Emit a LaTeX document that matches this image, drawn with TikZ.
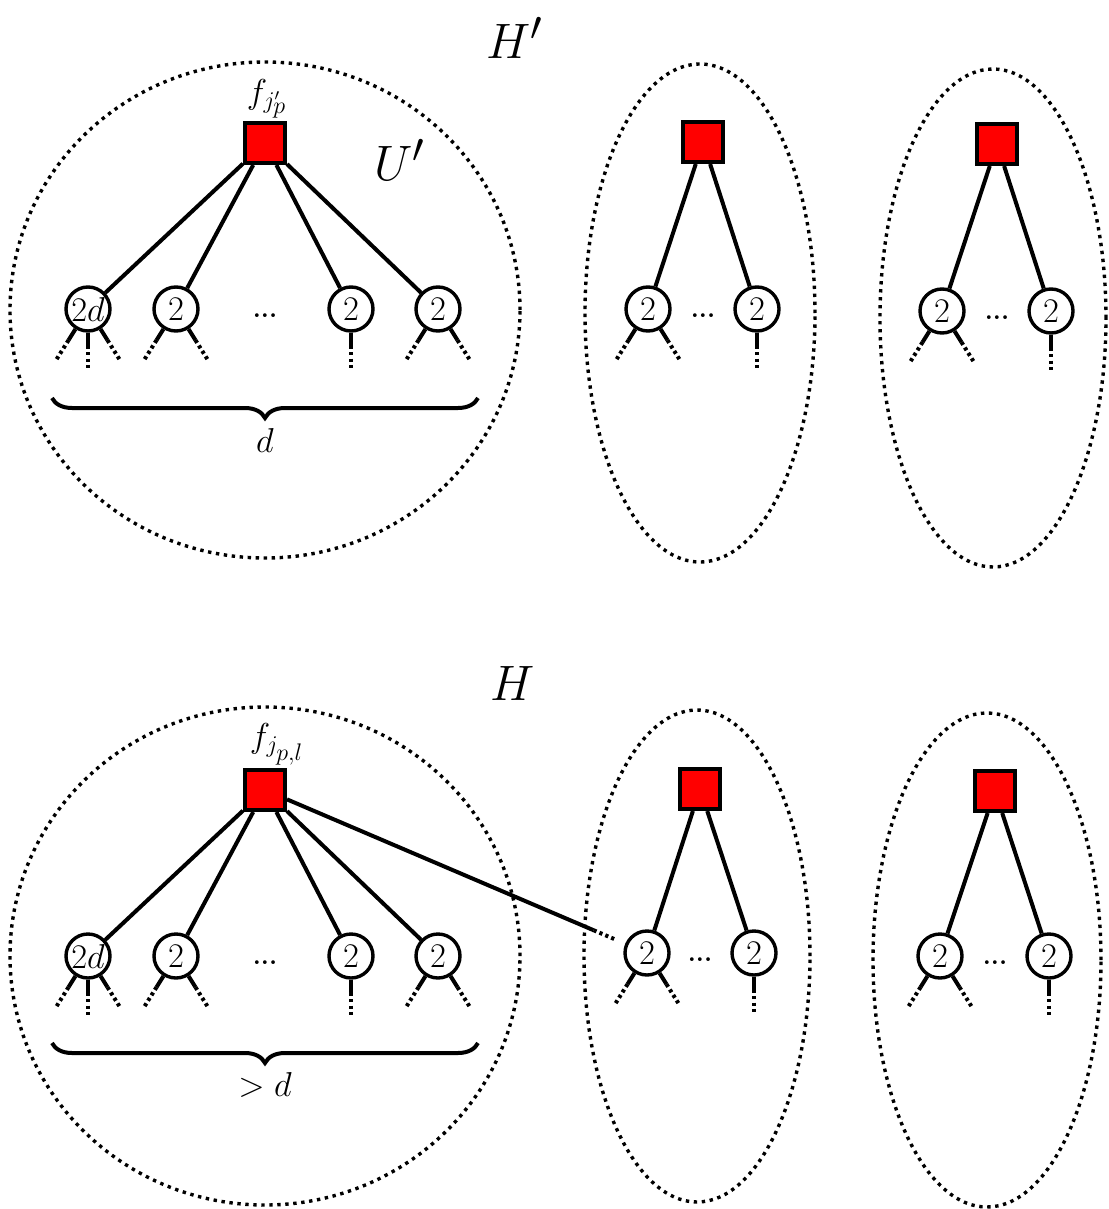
\documentclass[tikz,border=0pt]{standalone}
\usetikzlibrary{calc,decorations.pathreplacing}

\tikzset{
  factor/.style={draw, line width=2pt, fill=red, minimum size=20pt, inner sep=0pt},
  var/.style={draw, circle, line width=1.7pt, fill=white, minimum size=22pt, inner sep=0pt,
    font=\fontsize{17}{19}\selectfont},
  edge/.style={line width=2pt},
  loose/.style={line width=2pt, dash pattern=on 1.6pt off 1.6pt},
  group/.style={line width=1.7pt, dash pattern=on 1.7pt off 2.3pt},
  curly/.style={line width=2pt, decorate, decoration={brace, mirror, amplitude=10pt}},
  elide/.style={font=\fontsize{13}{15}\selectfont\bfseries, inner sep=0pt},
  tag/.style={font=\fontsize{17}{19}\selectfont, inner sep=1pt},
  title/.style={font=\fontsize{31}{36}\selectfont},
}

% stub below a variable node: solid piece, then dotted
\newcommand{\stub}[2]{%
  \draw[edge] (#1.#2) -- ++(#2:13) coordinate (#1s#2);
  \draw[loose] (#1s#2) -- ++(#2:25) coordinate (#1e#2);}

\begin{document}
\begin{tikzpicture}[x=0.5pt, y=0.5pt]
  \useasboundingbox (0,0) rectangle (1108,-1209);

  % ---------- H' ----------
  \node[title] (hp) at (515,-38) {$H'$};
  \draw[group] (265,-310) ellipse [x radius=255, y radius=248];
  \draw[group] (700,-313) ellipse [x radius=115, y radius=249];
  \draw[group] (993,-318) ellipse [x radius=113, y radius=249];

  \node[factor] (r1) at (265,-143) {};
  \node[tag, anchor=south] (f1) at ([xshift=1pt]r1.north) {$f_{j'_{\scriptstyle p}}$};
  \node[title, font=\fontsize{30}{36}\selectfont] (u) at (400,-160) {$U'$};
  \node[var] (a1) at (88,-309) {$2d$};
  \node[var] (a2) at (176,-309) {$2$};
  \node[var] (a3) at (351,-309) {$2$};
  \node[var] (a4) at (438,-309) {$2$};
  \node[elide] (e1) at (265,-316) {...};
  \draw[edge] (r1) -- (a1);
  \draw[edge] (r1) -- (a2);
  \draw[edge] (r1) -- (a3);
  \draw[edge] (r1) -- (a4);
  \stub{a1}{-122} \stub{a1}{-90} \stub{a1}{-58}
  \stub{a2}{-122} \stub{a2}{-58}
  \stub{a3}{-90}
  \stub{a4}{-122} \stub{a4}{-58}
  \draw[curly] (52,-398) -- (478,-398);
  \node[tag] (d1) at (265,-440) {$d$};

  \node[factor] (r2) at (703,-142) {};
  \node[var] (b1) at (648,-309) {$2$};
  \node[var] (b2) at (757,-309) {$2$};
  \node[elide] (e2) at (703,-316) {...};
  \draw[edge] (r2) -- (b1);
  \draw[edge] (r2) -- (b2);
  \stub{b1}{-122} \stub{b1}{-58}
  \stub{b2}{-90}

  \node[factor] (r3) at (997,-144) {};
  \node[var] (c1) at (942,-311) {$2$};
  \node[var] (c2) at (1051,-311) {$2$};
  \node[elide] (e3) at (997,-318) {...};
  \draw[edge] (r3) -- (c1);
  \draw[edge] (r3) -- (c2);
  \stub{c1}{-122} \stub{c1}{-58}
  \stub{c2}{-90}

  % ---------- H ----------
  \node[title] (h) at (513,-683) {$H$};
  \draw[group] (265,-956) ellipse [x radius=255, y radius=249];
  \draw[group] (697,-956) ellipse [x radius=113, y radius=246];
  \draw[group] (987,-960) ellipse [x radius=114, y radius=247];

  \node[factor] (R1) at (265,-790) {};
  \node[tag, anchor=south] (f2) at ([xshift=6pt]R1.north) {$f_{j_{\scriptstyle p,l}}$};
  \node[var] (A1) at (88,-956) {$2d$};
  \node[var] (A2) at (176,-956) {$2$};
  \node[var] (A3) at (351,-956) {$2$};
  \node[var] (A4) at (438,-956) {$2$};
  \node[elide] (E1) at (265,-963) {...};
  \draw[edge] (R1) -- (A1);
  \draw[edge] (R1) -- (A2);
  \draw[edge] (R1) -- (A3);
  \draw[edge] (R1) -- (A4);
  \stub{A1}{-122} \stub{A1}{-90} \stub{A1}{-58}
  \stub{A2}{-122} \stub{A2}{-58}
  \stub{A3}{-90}
  \stub{A4}{-122} \stub{A4}{-58}
  \draw[curly] (52,-1043) -- (478,-1043);
  \node[tag] (d2) at (265,-1085) {$>d$};

  \node[factor] (R2) at (700,-789) {};
  \node[var] (B1) at (647,-953) {$2$};
  \node[var] (B2) at (754,-953) {$2$};
  \node[elide] (E2) at (700,-960) {...};
  \draw[edge] (R2) -- (B1);
  \draw[edge] (R2) -- (B2);
  \stub{B1}{-122} \stub{B1}{-58}
  \stub{B2}{-90}

  \node[factor] (R3) at (995,-791) {};
  \node[var] (C1) at (940,-956) {$2$};
  \node[var] (C2) at (1049,-956) {$2$};
  \node[elide] (E3) at (995,-963) {...};
  \draw[edge] (R3) -- (C1);
  \draw[edge] (R3) -- (C2);
  \stub{C1}{-122} \stub{C1}{-58}
  \stub{C2}{-90}

  % link from the big factor into the next group
  \draw[edge] (R1) -- ($(R1)!0.86!(B1)$) coordinate (cut);
  \draw[loose] (cut) -- ($(R1)!0.92!(B1)$) coordinate (cutend);
\end{tikzpicture}
\end{document}
